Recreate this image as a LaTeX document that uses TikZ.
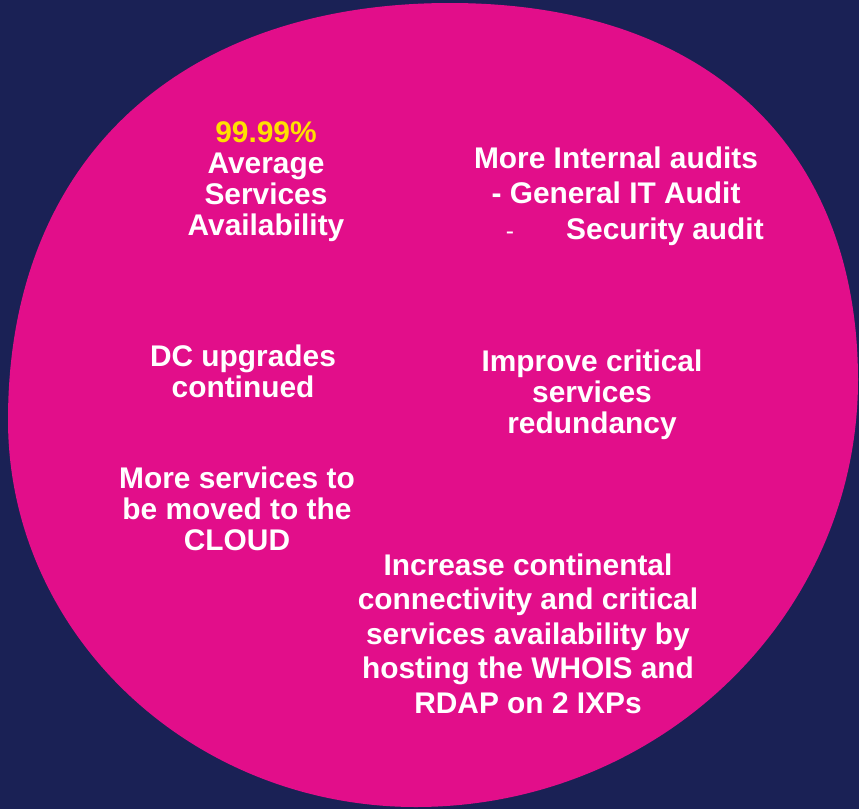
\documentclass[tikz,border=0pt]{standalone}
\usepackage{fontspec}
\setmainfont{Liberation Sans}
\usepackage{xcolor}
\usepackage{tikz}
\usetikzlibrary{positioning}

\definecolor{navybg}{HTML}{1A2155}
\definecolor{pinkbg}{HTML}{E20E8A}
\definecolor{goldtxt}{HTML}{FFE000}

\begin{document}
\begin{tikzpicture}[x=0.02cm,y=-0.02cm,
  goal/.style={text=white,align=center,anchor=base,inner sep=0pt,
    font=\bfseries\fontsize{17}{17.6}\selectfont},
  goalwide/.style={goal,font=\bfseries\fontsize{17}{19.6}\selectfont}]
  % 背景
  \fill[navybg] (0,0) rectangle (859,809);
  % 円
  \fill[pinkbg] (450,3) .. controls (710,3) and (858,150) .. (858,380)
    .. controls (858,616) and (660,807) .. (416,807)
    .. controls (191,807) and (8,634) .. (8,420)
    .. controls (8,160) and (180,3) .. (450,3) -- cycle;
  % テキスト (基準は最終行のベースライン)
  \node[goal] (avail) at (266,235) {\textcolor{goldtxt}{99.99\%}\\Average\\Services\\Availability};
  \node[goalwide] (audits) at (616,203) {More Internal audits\\- General IT Audit};
  \node[goal] (secaudit) at (665,239) {Security audit};
  \node[text=white,anchor=base,inner sep=0pt,font=\fontsize{14}{16}\selectfont] (secdash) at (510,239) {-};
  \node[goal] (dcup) at (243,397) {DC upgrades\\continued};
  \node[goal] (redund) at (592,433) {Improve critical\\services\\redundancy};
  \node[goal] (cloud) at (237,550) {More services to\\be moved to the\\CLOUD};
  \node[goalwide] (ixp) at (528,713) {Increase continental\\connectivity and critical\\services availability by\\hosting the WHOIS and\\RDAP on 2 IXPs};
\end{tikzpicture}
\end{document}
